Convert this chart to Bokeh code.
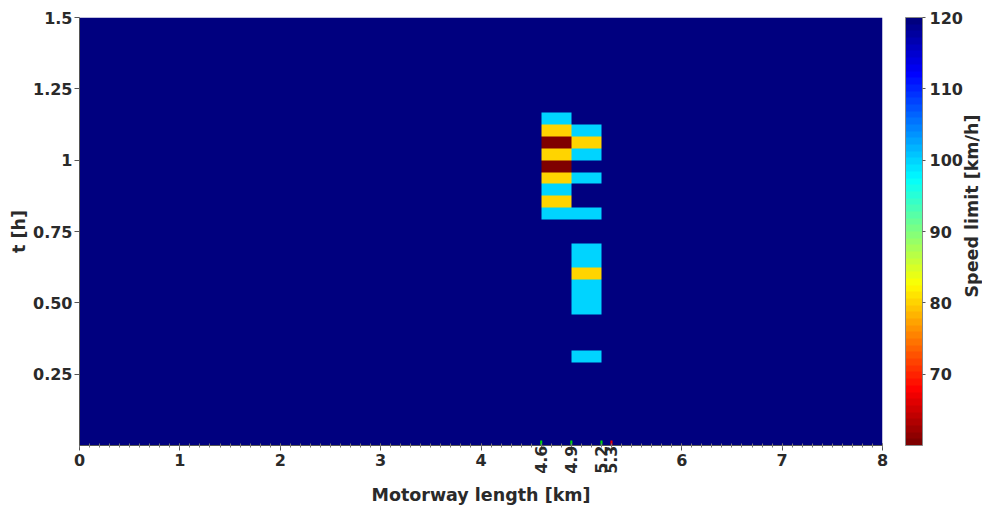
import math
import numpy as np
from bokeh.plotting import figure
from bokeh.models import (LinearColorMapper, ColorBar, FixedTicker, LinearAxis,
                          Range1d)
from bokeh.embed import file_html
from bokeh.resources import INLINE

# ---------------- data ----------------
ROAD_KM = 8.0            # motorway length
T_END_H = 1.5            # simulated time span
CELL_KM = 0.1            # spatial resolution
STEP_MIN = 2.5           # time resolution in minutes
DEFAULT_LIMIT = 120      # km/h

# cells where the variable speed limit differs from the default
cell_km_from = [4.6, 4.6, 4.9, 4.6, 4.9, 4.6, 4.9, 4.6, 4.6, 4.9, 4.6,
                4.6, 4.6, 4.9, 4.9, 4.9, 4.9, 4.9, 4.9, 4.9, 4.9]
cell_km_to = [4.9, 4.9, 5.2, 4.9, 5.2, 4.9, 5.2, 4.9, 4.9, 5.2, 4.9,
              4.9, 4.9, 5.2, 5.2, 5.2, 5.2, 5.2, 5.2, 5.2, 5.2]
cell_t_min = [67.5, 65.0, 65.0, 62.5, 62.5, 60.0, 60.0, 57.5, 55.0, 55.0, 52.5,
              50.0, 47.5, 47.5, 40.0, 37.5, 35.0, 32.5, 30.0, 27.5, 17.5]
cell_limit = [100, 80, 100, 60, 80, 80, 100, 60, 80, 100, 100,
              80, 100, 100, 100, 100, 80, 100, 100, 100, 100]

# detector / ramp positions marked on the x axis
marker_km = [4.6, 4.9, 5.2, 5.3]
marker_label = ["4.6", "4.9", "5.2", "5.3"]
marker_color = ["#00dd00", "#00dd00", "#00dd00", "#ee0000"]

x_ticks = [0, 1, 2, 3, 4, 6, 7, 8]
y_ticks = [0.25, 0.5, 0.75, 1.0, 1.25, 1.5]
y_tick_labels = ["0.25", "0.50", "0.75", "1", "1.25", "1.5"]
cb_ticks = [70, 80, 90, 100, 110, 120]
LIMIT_LOW, LIMIT_HIGH = 60, 120
CB_TITLE = "Speed limit [km/h]"
CB_TITLE_START = 80.75   # colour-bar value where the rotated title begins

# ---------------- grid ----------------
nx = int(round(ROAD_KM / CELL_KM))
nt = int(round(T_END_H * 60 / STEP_MIN))
grid = np.full((nt, nx), float(DEFAULT_LIMIT))
for a, b, t0, v in zip(cell_km_from, cell_km_to, cell_t_min, cell_limit):
    i = int(round(t0 / STEP_MIN))
    grid[i, int(round(a / CELL_KM)):int(round(b / CELL_KM))] = v


def jet(n):
    cols = []
    for k in range(n):
        v = k / (n - 1)
        r = min(max(min(4 * v - 1.5, -4 * v + 4.5), 0), 1)
        g = min(max(min(4 * v - 0.5, -4 * v + 3.5), 0), 1)
        b = min(max(min(4 * v + 0.5, -4 * v + 2.5), 0), 1)
        cols.append("#%02x%02x%02x" % (int(r * 255), int(g * 255), int(b * 255)))
    return cols


palette = list(reversed(jet(64)))
mapper = LinearColorMapper(palette=palette, low=LIMIT_LOW, high=LIMIT_HIGH)

FONT = "DejaVu Sans"
TXT = "#2a2a2a"
AX = "#555555"
FRAME_W, FRAME_H = 803, 428

p = figure(x_range=Range1d(0, ROAD_KM), y_range=Range1d(0, T_END_H),
           frame_width=FRAME_W, frame_height=FRAME_H,
           output_backend="svg", toolbar_location=None,
           min_border_left=79, min_border_top=17, min_border_right=0,
           min_border_bottom=0, y_axis_label="t [h]")
p.image(image=[grid], x=0, y=0, dw=ROAD_KM, dh=T_END_H, color_mapper=mapper)

p.xgrid.visible = False
p.ygrid.visible = False
p.outline_line_color = None


def style_text(ax):
    ax.major_label_text_font = FONT
    ax.major_label_text_font_style = "bold"
    ax.major_label_text_font_size = "16px"
    ax.major_label_text_color = TXT
    ax.axis_label_text_font = FONT
    ax.axis_label_text_font_style = "bold"
    ax.axis_label_text_font_size = "17.5px"
    ax.axis_label_text_color = TXT


xa = p.xaxis[0]
ya = p.yaxis[0]
for ax in (xa, ya):
    style_text(ax)
    ax.axis_line_color = AX
    ax.major_tick_line_color = AX

xa.ticker = FixedTicker(ticks=x_ticks, minor_ticks=[k * CELL_KM for k in range(nx + 1)])
xa.major_tick_in = 2
xa.major_tick_out = 5
xa.minor_tick_in = 2
xa.minor_tick_out = 2
xa.minor_tick_line_color = "#777777"
xa.major_label_standoff = 3

ya.ticker = FixedTicker(ticks=y_ticks)
ya.major_label_overrides = {t: s for t, s in zip(y_ticks, y_tick_labels)}
ya.minor_tick_line_color = None
ya.major_tick_in = 0
ya.major_tick_out = 5
ya.major_label_standoff = 2
ya.axis_label_standoff = 1

# second x axis: detector positions with rotated labels, overlapping the first
det_axis = LinearAxis(ticker=FixedTicker(ticks=marker_km),
                      major_label_overrides={k: s for k, s in zip(marker_km, marker_label)},
                      major_label_orientation=math.pi / 2,
                      axis_line_color=None, major_tick_line_color=None,
                      minor_tick_line_color=None, major_tick_in=0, major_tick_out=0,
                      major_label_standoff=-23,
                      axis_label="Motorway length [km]", axis_label_standoff=8)
style_text(det_axis)
p.add_layout(det_axis, "below")

# coloured detector tick marks
p.scatter(x=marker_km, y=[0] * len(marker_km), marker="dash", angle=math.pi / 2,
          size=10, line_color=marker_color, line_width=2)

cb = ColorBar(color_mapper=mapper, ticker=FixedTicker(ticks=cb_ticks),
              width=17, height=FRAME_H, padding=0, margin=0,
              location=(FRAME_W + 23, 0),
              major_label_text_font=FONT, major_label_text_font_style="bold",
              major_label_text_font_size="16px", major_label_text_color=TXT,
              major_tick_line_color=AX, major_tick_in=0, major_tick_out=3,
              label_standoff=4, bar_line_color="#888888",
              border_line_color=None, background_fill_color=None)
p.add_layout(cb, "center")

# colour-bar title: a single rotated tick label on an otherwise empty right axis
p.extra_y_ranges = {"cb": Range1d(LIMIT_LOW, LIMIT_HIGH)}
tax = LinearAxis(y_range_name="cb", ticker=FixedTicker(ticks=[CB_TITLE_START]),
                 major_label_overrides={CB_TITLE_START: CB_TITLE},
                 major_label_orientation=math.pi / 2,
                 axis_line_color=None, major_tick_line_color=None,
                 minor_tick_line_color=None, major_tick_in=0, major_tick_out=0,
                 major_label_standoff=90)
style_text(tax)
tax.major_label_text_font_size = "17.5px"
p.add_layout(tax, "right")

open("out.html", "w").write(file_html(p, INLINE))
